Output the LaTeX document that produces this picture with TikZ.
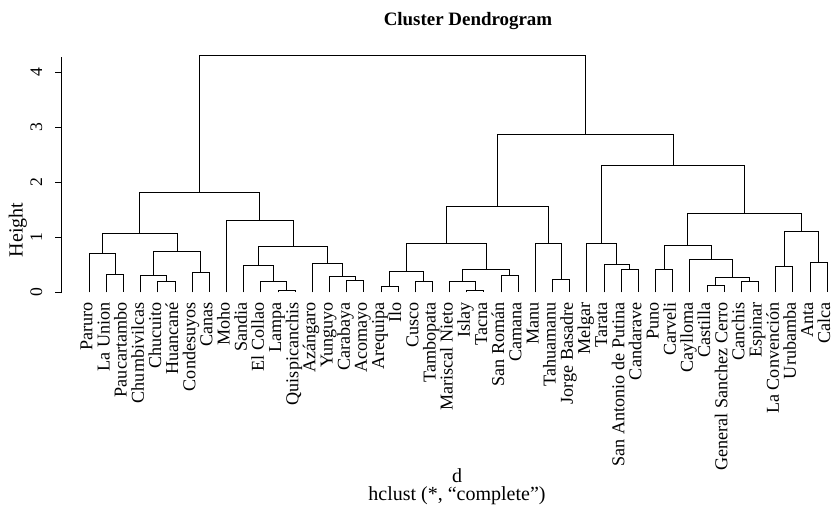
\documentclass[tikz,border=0pt]{standalone}
\usepackage{fontspec}
\setmainfont{Liberation Serif}
\usetikzlibrary{calc}
\tikzset{
  branch/.style = {draw=black, line width=0.75pt},
  leafname/.style = {rotate=90, anchor=mid east, inner sep=0pt,
    font=\fontsize{13.6}{16}\selectfont},
  ticklabel/.style = {rotate=90, anchor=base, inner sep=0pt,
    font=\fontsize{13.2}{15}\selectfont},
  axistitle/.style = {anchor=base, inner sep=0pt,
    font=\fontsize{15}{18}\selectfont},
  maintitle/.style = {anchor=base, inner sep=0pt,
    font=\fontsize{14.2}{17}\selectfont\bfseries},
}
\newcommand{\merge}[4]{%
  \coordinate (#1-mid) at ($(#2)!0.5!(#3)$);
  \coordinate (#1) at (#1-mid |- 0,#4);
  \draw[branch] (#2) |- (#1) -| (#3);
}

\begin{document}
\begin{tikzpicture}[x=0.75pt, y=41.25pt]
    \useasboundingbox (0,-3.958) rectangle (833,5.315);
    \foreach \name [count=\i from 0] in {Paruro, La Union, Paucartambo,
      Chumbivilcas, Chucuito, Huancané, Condesuyos, Canas, Moho, Sandia,
      El Collao, Lampa, Quispicanchis, Azángaro, Yunguyo, Carabaya, Acomayo,
      Arequipa, Ilo, Cusco, Tambopata, Mariscal Nieto, Islay, Tacna,
      San Román, Camana, Manu, Tahuamanu, Jorge Basadre, Melgar, Tarata,
      San Antonio de Putina, Candarave, Puno, Carveli, Caylloma, Castilla,
      General Sanchez Cerro, Canchis, Espinar, La Convención, Urubamba,
      Anta, Calca}{
      \coordinate (l\i) at ({89.3+17.16*\i},0);
      \node [leafname] (name\i) at ({89.3+17.16*\i},-0.18) {\name};
    }
    \merge{a1}{l1}{l2}{0.33}
    \merge{a2}{l0}{a1}{0.71}
    \merge{a3}{l4}{l5}{0.19}
    \merge{a4}{l3}{a3}{0.30}
    \merge{a5}{l6}{l7}{0.36}
    \merge{a6}{a4}{a5}{0.74}
    \merge{a7}{a2}{a6}{1.07}
    \merge{b1}{l11}{l12}{0.04}
    \merge{b2}{l10}{b1}{0.19}
    \merge{b3}{l9}{b2}{0.48}
    \merge{b4}{l15}{l16}{0.21}
    \merge{b5}{l14}{b4}{0.28}
    \merge{b6}{l13}{b5}{0.53}
    \merge{b7}{b3}{b6}{0.83}
    \merge{b8}{l8}{b7}{1.31}
    \merge{left}{a7}{b8}{1.82}
    \merge{c1}{l17}{l18}{0.10}
    \merge{c2}{l19}{l20}{0.19}
    \merge{c3}{c1}{c2}{0.37}
    \merge{c4}{l22}{l23}{0.04}
    \merge{c5}{l21}{c4}{0.19}
    \merge{c6}{l24}{l25}{0.31}
    \merge{c7}{c5}{c6}{0.42}
    \merge{c8}{c3}{c7}{0.88}
    \merge{d1}{l27}{l28}{0.24}
    \merge{d2}{l26}{d1}{0.88}
    \merge{c9}{c8}{d2}{1.56}
    \merge{e1}{l31}{l32}{0.41}
    \merge{e2}{l30}{e1}{0.51}
    \merge{e3}{l29}{e2}{0.89}
    \merge{f1}{l33}{l34}{0.42}
    \merge{f2}{l36}{l37}{0.13}
    \merge{f3}{l38}{l39}{0.19}
    \merge{f4}{f2}{f3}{0.27}
    \merge{f5}{l35}{f4}{0.60}
    \merge{f6}{f1}{f5}{0.86}
    \merge{g1}{l40}{l41}{0.47}
    \merge{g2}{l42}{l43}{0.54}
    \merge{g3}{g1}{g2}{1.10}
    \merge{g4}{f6}{g3}{1.44}
    \merge{e4}{e3}{g4}{2.30}
    \merge{right}{c9}{e4}{2.87}
    \merge{root}{left}{right}{4.31}
    \coordinate (ybot) at (61.7,0);
    \coordinate (ytop) at (61.7,4.27);
    \draw [branch] (ybot) -- (ytop);
    \foreach \k in {0,...,4}{
      \coordinate (tick\k) at (61.7,\k);
      \draw [branch] (tick\k) -- ++(-6.7,0);
      \node [ticklabel] (num\k) at (42,\k) {\k};
    }
    \node [axistitle, rotate=90] (ylab) at (22.7,1.133) {Height};
    \node [axistitle] (xlab) at (457,-3.449) {d};
    \node [axistitle] (sub) at (457,-3.776) {hclust (*, “complete”)};
    \node [maintitle] (title) at (468,4.86) {Cluster Dendrogram};
\end{tikzpicture}
\end{document}
